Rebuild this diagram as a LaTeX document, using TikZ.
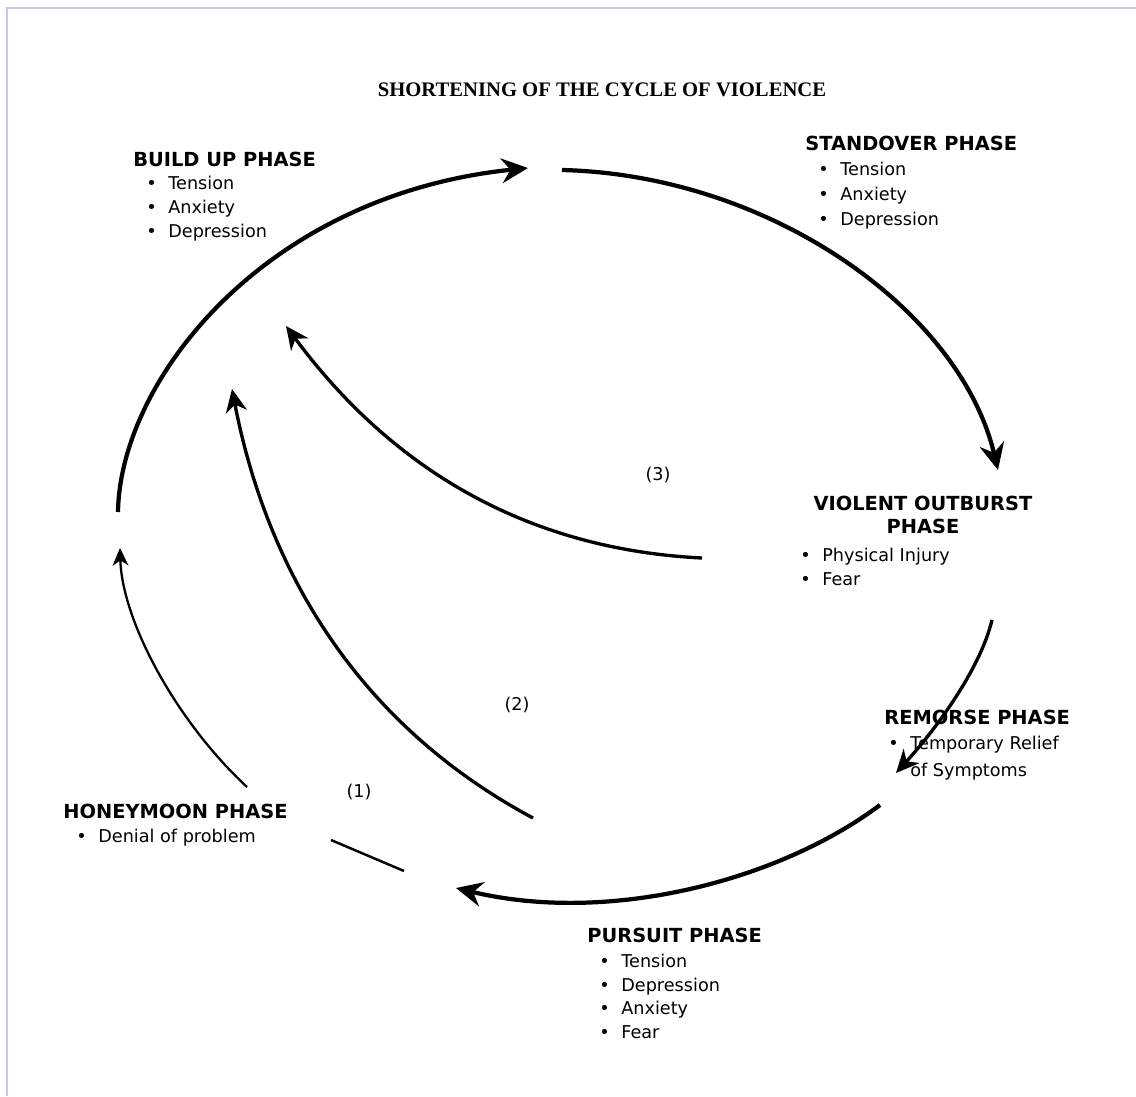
\documentclass[tikz,border=0pt]{standalone}
\usepackage{fontspec}
\setmainfont{DejaVu Sans}
\newfontfamily\titlefont{Liberation Serif}
\usetikzlibrary{arrows.meta}
\definecolor{framec}{RGB}{200,200,235}
\newcommand{\bl}{\makebox[0pt][r]{\textbullet\hspace{6.6pt}}}
\begin{document}
\begin{tikzpicture}[x=0.5669pt,y=-0.5669pt,
  head/.style={font=\fontsize{11}{13}\selectfont\bfseries, inner sep=0pt, anchor=base west},
  headc/.style={font=\fontsize{11}{13}\selectfont\bfseries, inner sep=0pt, anchor=base},
  item/.style={font=\fontsize{10}{12}\selectfont, inner sep=0pt, anchor=base west},
  num/.style={font=\fontsize{10}{12}\selectfont, inner sep=0pt, anchor=center},
  bigarrow/.style={line width=2.4pt, -{Stealth[length=15pt,width=14pt,inset=5pt]}},
  midarrow/.style={line width=1.9pt, -{Stealth[length=13pt,width=12pt,inset=4pt]}},
  thinarrow/.style={line width=1.3pt, -{Stealth[length=10pt,width=9pt,inset=3pt]}},
  plainline/.style={line width=1.4pt},
  framestyle/.style={draw=framec, line width=1.2pt}
]
\useasboundingbox (0,0) rectangle (1136,1096);
\fill[white] (0,0) rectangle (1136,1096);
% frame
\coordinate (fa) at (7,1096);
\coordinate (fb) at (7,8);
\coordinate (fc) at (1136,8);
\draw[framestyle] (fa) -- (fb) -- (fc);

% title
\node[font=\titlefont\fontsize{11.7}{14}\selectfont\bfseries, anchor=base, inner sep=0pt] (title) at (602,96) {SHORTENING OF THE CYCLE OF VIOLENCE};

% build up
\node[head] (bh) at (133,166) {BUILD UP PHASE};
\node[item] (b1) at (168,189) {\bl Tension};
\node[item] (b2) at (168,213) {\bl Anxiety};
\node[item] (b3) at (168,237) {\bl Depression};

% standover
\node[head] (sh) at (805,150) {STANDOVER PHASE};
\node[item] (s1) at (840,175) {\bl Tension};
\node[item] (s2) at (840,200) {\bl Anxiety};
\node[item] (s3) at (840,225) {\bl Depression};

% violent outburst
\node[headc] (vh1) at (923,510) {VIOLENT OUTBURST};
\node[headc] (vh2) at (923,533) {PHASE};
\node[item] (v1) at (822,561) {\bl Physical Injury};
\node[item] (v2) at (822,585) {\bl Fear};

% remorse
\node[head] (rh) at (884,724) {REMORSE PHASE};
\node[item] (r1) at (910,749) {\bl Temporary Relief};
\node[item] (r2) at (910,776) {of Symptoms};

% pursuit
\node[head] (ph) at (587,942) {PURSUIT PHASE};
\node[item] (p1) at (621,967) {\bl Tension};
\node[item] (p2) at (621,991) {\bl Depression};
\node[item] (p3) at (621,1014) {\bl Anxiety};
\node[item] (p4) at (621,1038) {\bl Fear};

% honeymoon
\node[head] (hh) at (63,818) {HONEYMOON PHASE};
\node[item] (h1) at (98,842) {\bl Denial of problem};

% numbers
\node[num] (n3) at (658,475) {(3)};
\node[num] (n2) at (517,705) {(2)};
\node[num] (n1) at (359,792) {(1)};

% arrow end points
\coordinate (a1s) at (118,512);
\coordinate (a1e) at (528,168);
\coordinate (a2s) at (562,170);
\coordinate (a2e) at (998,470);
\coordinate (a3s) at (992,620);
\coordinate (a3e) at (896,773);
\coordinate (a4s) at (880,805);
\coordinate (a4e) at (456,888);
\coordinate (a5s) at (247,787);
\coordinate (a5e) at (120,548);
\coordinate (a6s) at (533,818);
\coordinate (a6e) at (232,389);
\coordinate (a7s) at (702,558);
\coordinate (a7e) at (286,326);
\coordinate (l1s) at (331,840);
\coordinate (l1e) at (404,871);

\draw[bigarrow] (a1s) .. controls (120,380) and (265,195) .. (a1e);
\draw[bigarrow] (a2s) .. controls (770,175) and (960,310) .. (a2e);
\draw[midarrow] (a3s) .. controls (980,670) and (935,730) .. (a3e);
\draw[bigarrow] (a4s) .. controls (780,880) and (610,925) .. (a4e);
\draw[thinarrow] (a5s) .. controls (175,720) and (122,620) .. (a5e);
\draw[midarrow] (a6s) .. controls (350,720) and (265,560) .. (a6e);
\draw[midarrow] (a7s) .. controls (540,550) and (400,480) .. (a7e);
\draw[plainline] (l1s) -- (l1e);
\end{tikzpicture}
\end{document}
